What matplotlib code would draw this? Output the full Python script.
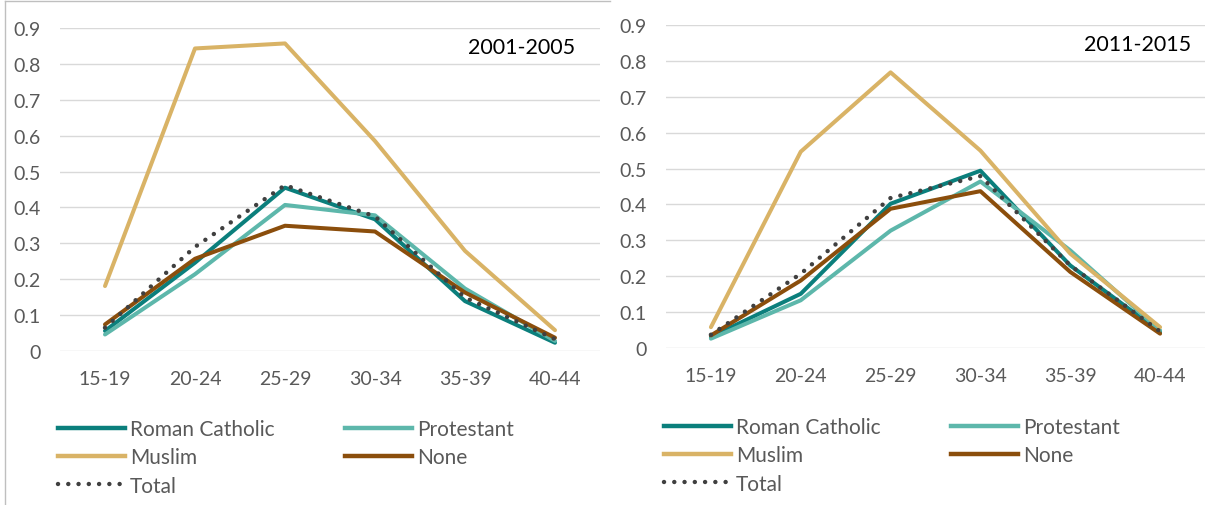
import matplotlib
matplotlib.use('Agg')
import matplotlib.pyplot as plt
from matplotlib.lines import Line2D

plt.rcParams['font.family'] = ['Lato', 'DejaVu Sans']

W, H = 1225, 506

age_groups = ['15-19', '20-24', '25-29', '30-34', '35-39', '40-44']
yticks = [0, 0.1, 0.2, 0.3, 0.4, 0.5, 0.6, 0.7, 0.8, 0.9]
ytick_labels = ['0', '0.1', '0.2', '0.3', '0.4', '0.5', '0.6', '0.7', '0.8', '0.9']

# 2001-2005
rc_0105 = [0.056, 0.246, 0.455, 0.367, 0.139, 0.023]
prot_0105 = [0.046, 0.214, 0.407, 0.378, 0.174, 0.028]
musl_0105 = [0.181, 0.843, 0.857, 0.585, 0.279, 0.058]
none_0105 = [0.074, 0.257, 0.349, 0.333, 0.163, 0.037]
total_0105 = [0.065, 0.290, 0.462, 0.375, 0.149, 0.033]

# 2011-2015
rc_1115 = [0.031, 0.151, 0.402, 0.494, 0.230, 0.045]
prot_1115 = [0.026, 0.133, 0.327, 0.464, 0.272, 0.049]
musl_1115 = [0.058, 0.547, 0.768, 0.550, 0.263, 0.058]
none_1115 = [0.035, 0.188, 0.388, 0.437, 0.212, 0.040]
total_1115 = [0.037, 0.207, 0.418, 0.479, 0.230, 0.046]

series_names = ['Roman Catholic', 'Protestant', 'Muslim', 'None', 'Total']
colors = {'Roman Catholic': '#0B7F7C', 'Protestant': '#5DB7AB',
          'Muslim': '#D9B366', 'None': '#8B4E0C', 'Total': '#404040'}

grey = '#595959'


def px_axes(fig, x0, x1, y_top, y_bot):
    return fig.add_axes([x0 / W, 1 - y_bot / H, (x1 - x0) / W, (y_bot - y_top) / H])


def draw_panel(ax, data, title, tx, ty):
    x = range(len(age_groups))
    for name, vals in zip(series_names, data):
        if name == 'Total':
            ax.plot(x, vals, color=colors[name], lw=3.2, linestyle=(0, (0.01, 2.3)),
                    dash_capstyle='round', zorder=5)
        else:
            ax.plot(x, vals, color=colors[name], lw=2.9, solid_capstyle='round', zorder=3)
    ax.set_xlim(-0.5, len(age_groups) - 0.5)
    ax.set_ylim(0, 0.9)
    ax.set_yticks(yticks)
    ax.set_yticklabels(ytick_labels)
    ax.set_xticks(list(x))
    ax.set_xticklabels(age_groups)
    ax.tick_params(length=0, labelsize=14, labelcolor=grey)
    ax.tick_params(axis='y', pad=14)
    ax.tick_params(axis='x', pad=13.5)
    ax.grid(axis='y', color='#D9D9D9', lw=1)
    ax.set_axisbelow(True)
    for s in ax.spines.values():
        s.set_visible(False)
    ax.text(tx, ty, title, transform=ax.transAxes, ha='right', va='center',
            fontsize=15.5, color='black')


fig = plt.figure(figsize=(W / 100, H / 100), dpi=100)

ax1 = px_axes(fig, 60, 600, 29, 352)
draw_panel(ax1, [rc_0105, prot_0105, musl_0105, none_0105, total_0105], '2001-2005',
           0.954, 0.94)

ax2 = px_axes(fig, 666, 1205, 26, 349)
draw_panel(ax2, [rc_1115, prot_1115, musl_1115, none_1115, total_1115], '2011-2015',
           0.975, 0.94)

# frame of the left chart
fig.add_artist(Line2D([5 / W, 5 / W], [0, 1 - 2 / H], color='#BFBFBF', lw=1))
fig.add_artist(Line2D([5 / W, 610 / W], [1 - 2 / H, 1 - 2 / H], color='#BFBFBF', lw=1))

handles = []
for name in series_names:
    if name == 'Total':
        h = Line2D([], [], color=colors[name], lw=3.2, linestyle=(0, (0.01, 2.3)),
                   dash_capstyle='round')
    else:
        h = Line2D([], [], color=colors[name], lw=3.2)
    handles.append(h)
order = [0, 2, 4, 1, 3]

for lx, ly in [(58, 420), (664, 418)]:
    fig.legend([handles[i] for i in order], [series_names[i] for i in order],
               loc='upper left', bbox_to_anchor=(lx / W, 1 - ly / H), ncol=2,
               frameon=False, fontsize=15, handlelength=3.2, handletextpad=0.25,
               columnspacing=3.4, labelspacing=0.4, borderpad=0, borderaxespad=0,
               labelcolor=grey)

fig.savefig('out.png', dpi=100)
